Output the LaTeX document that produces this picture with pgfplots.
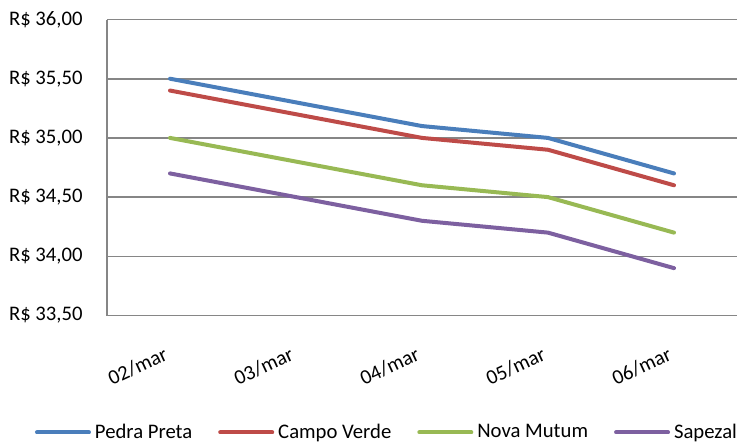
\documentclass[border=0pt]{standalone}
\usepackage{pgfplots}
\pgfplotsset{compat=1.18}
\usepackage{fontspec}
\setmainfont{Carlito}
\definecolor{cblue}{HTML}{4A7EBB}
\definecolor{cred}{HTML}{BE4B48}
\definecolor{cgreen}{HTML}{98B954}
\definecolor{cpurple}{HTML}{7D60A0}
\definecolor{cgrid}{HTML}{868686}
\begin{document}
\fontsize{10.35}{12}\selectfont
\begin{tikzpicture}
\path[use as bounding box] (-53.5pt,-62.75pt) rectangle (316pt,157.75pt);
\begin{axis}[
  at={(0pt,0pt)}, anchor=south west,
  scale only axis,
  width=315pt, height=148pt,
  xmin=-0.5, xmax=4.5,
  ymin=33.5, ymax=36,
  ytick={33.5,34,34.5,35,35.5,36},
  xtick={0,1,2,3,4},
  xticklabels={02/mar,03/mar,04/mar,05/mar,06/mar},
  axis lines*=left,
  axis line style={draw=cgrid, line width=0.8pt, -},
  ymajorgrids,
  grid style={draw=cgrid, line width=0.8pt},
  major tick length=0pt,
  /pgf/number format/assume math mode=true,
  yticklabel={R\$ \pgfmathprintnumber[fixed,fixed zerofill,precision=2,use comma]{\tick}},
  yticklabel style={anchor=east, inner sep=0pt, xshift=-12pt, font=\fontsize{10.35}{12}\selectfont},
  xticklabel style={xshift=-3.5pt, yshift=-15pt, rotate=25, anchor=north east, inner sep=0pt, font=\fontsize{10.35}{12}\selectfont},
  legend style={draw=none, at={(0.446,-0.395)}, anchor=center, legend columns=4,
    font=\fontsize{10.35}{12}\selectfont,
    /tikz/every even column/.append style={column sep=11pt}},
  legend image code/.code={\draw[#1] (0pt,0pt) -- (26pt,0pt);},
  every axis plot/.append style={line width=2pt, line cap=round, line join=round, no markers},
]
\addplot[cblue] coordinates {(0,35.5) (1,35.3) (2,35.1) (3,35.0) (4,34.7)};
\addlegendentry{Pedra Preta}
\addplot[cred] coordinates {(0,35.4) (1,35.2) (2,35.0) (3,34.9) (4,34.6)};
\addlegendentry{Campo Verde}
\addplot[cgreen] coordinates {(0,35.0) (1,34.8) (2,34.6) (3,34.5) (4,34.2)};
\addlegendentry{Nova Mutum}
\addplot[cpurple] coordinates {(0,34.7) (1,34.5) (2,34.3) (3,34.2) (4,33.9)};
\addlegendentry{Sapezal}
\end{axis}
\end{tikzpicture}
\end{document}
